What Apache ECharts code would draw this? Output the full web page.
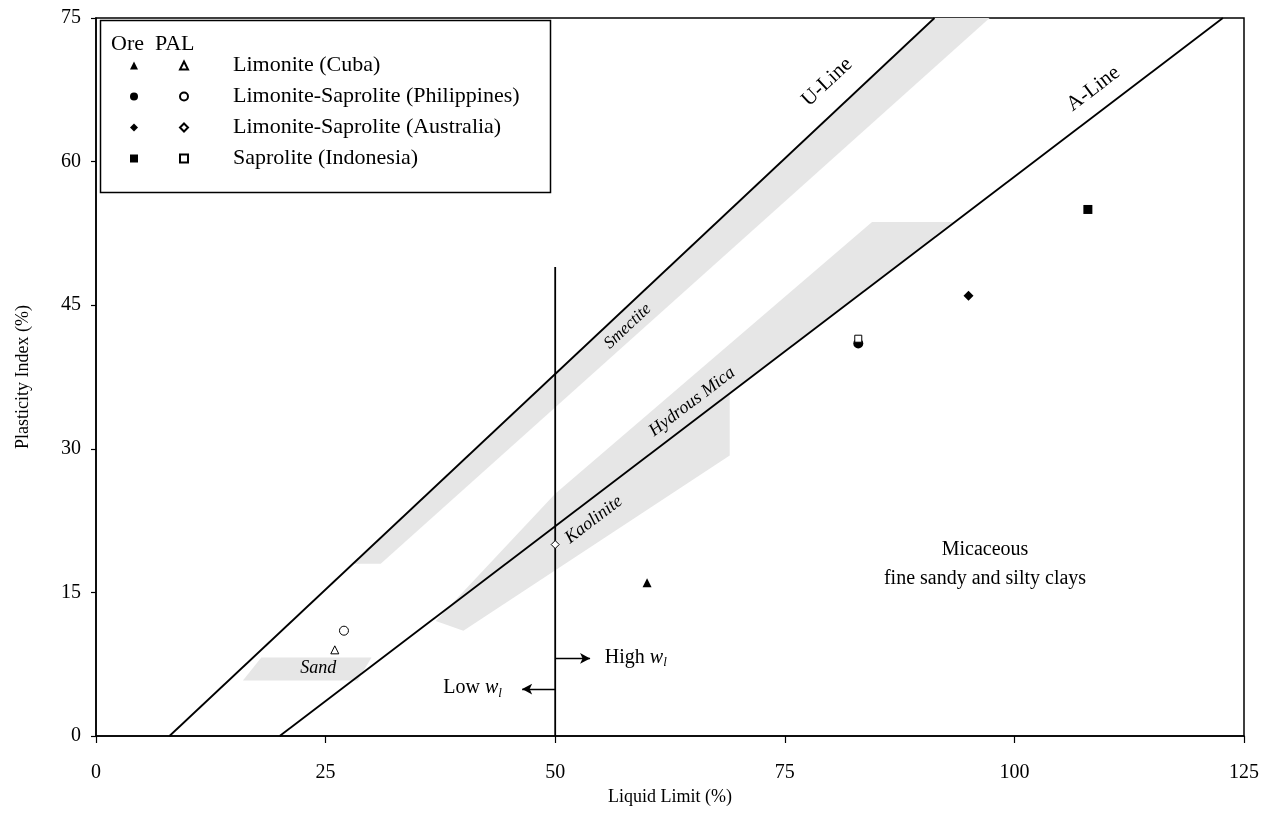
<!DOCTYPE html>
<html>
<head>
<meta charset="utf-8">
<script src="https://cdn.jsdelivr.net/npm/echarts@6/dist/echarts.min.js"></script>
<style>
html, body { margin: 0; padding: 0; background: #fff; }
#chart { width: 1272px; height: 824px; }
</style>
</head>
<body>
<div id="chart"></div>
<script>
var FONT = '"Liberation Serif", "Times New Roman", serif';

// axis ranges
var xRange = [0, 125];
var yRange = [0, 75];

// measured points (liquid limit, plasticity index)
var oreCuba = [[60, 16]];
var palCuba = [[26, 9]];
var orePhil = [[83, 41]];
var palPhil = [[27, 11]];
var oreAus = [[95, 46]];
var palAus = [[50, 20]];
var oreIndo = [[108, 55]];
var palIndo = [[83, 41.5]];

// reference lines
var uLine = [[8, 0], [91.3, 75]];
var aLine = [[20, 0], [122.7, 75]];
var wlLine = [[50, 0], [50, 49]];

// shaded mineral zones
var smectiteBand = [[28, 18], [91.3, 75], [97.3, 75], [31, 18]];
var micaBand = [[37, 12], [50, 25.3], [84.5, 53.7], [93.3, 53.7], [69, 35.8], [69, 29.3], [40, 11]];
var sandBand = [[16, 5.8], [18, 8.2], [30, 8.2], [28.5, 5.8]];

var siteNames = ['Limonite (Cuba)', 'Limonite-Saprolite (Philippines)', 'Limonite-Saprolite (Australia)', 'Saprolite (Indonesia)'];

var myChart = echarts.init(document.getElementById('chart'));

function band(pts) {
    return {
        type: 'custom',
        silent: true,
        z: 1,
        data: [pts[0]],
        renderItem: function (params, api) {
            return {
                type: 'polygon',
                shape: { points: pts.map(function (p) { return api.coord(p); }) },
                style: { fill: '#e6e6e6' }
            };
        }
    };
}

function refLine(data) {
    return {
        type: 'line',
        data: data,
        symbol: 'none',
        silent: true,
        z: 3,
        lineStyle: { color: '#000', width: 1.8 }
    };
}

function ore(name, data, symbol, size) {
    return {
        type: 'scatter', name: 'ore ' + name, data: data,
        symbol: symbol, symbolSize: size, z: 5,
        itemStyle: { color: '#000', opacity: 1 }
    };
}

function pal(name, data, symbol, size) {
    return {
        type: 'scatter', name: name, data: data,
        symbol: symbol, symbolSize: size, z: 6,
        itemStyle: { color: '#fff', borderColor: '#000', borderWidth: 1, opacity: 1 }
    };
}

function note(x, y, text, opts) {
    var lab = {
        show: true, position: 'inside', formatter: text,
        color: '#000', fontFamily: FONT, fontSize: 20
    };
    for (var k in opts) lab[k] = opts[k];
    return { value: [x, y], symbolSize: 0, label: lab };
}

var subRich = {
    n: { fontFamily: FONT, fontSize: 20, color: '#000', verticalAlign: 'top', lineHeight: 22, padding: [0, 0, 4, 0] },
    w: { fontFamily: FONT, fontSize: 20, fontStyle: 'italic', color: '#000', verticalAlign: 'top', lineHeight: 22, padding: [0, 0, 4, 0] },
    s: { fontFamily: FONT, fontSize: 13, fontStyle: 'italic', color: '#000', verticalAlign: 'bottom', lineHeight: 13 }
};

var wlSeries = refLine(wlLine);
wlSeries.markLine = {
    silent: true,
    symbol: ['none', 'arrow'],
    symbolSize: [8, 10],
    label: { show: false },
    lineStyle: { color: '#000', width: 1.4, type: 'solid' },
    data: [
        [{ coord: [50, 8.1] }, { coord: [53.8, 8.1] }],
        [{ coord: [50, 4.9] }, { coord: [46.4, 4.9] }]
    ]
};

option = {
    backgroundColor: '#fff',
    animation: false,
    grid: {
        left: 96, right: 28, top: 18, bottom: 88,
        show: true, borderColor: '#000', borderWidth: 1.5
    },
    xAxis: {
        type: 'value', min: xRange[0], max: xRange[1], interval: 25,
        name: 'Liquid Limit (%)', nameLocation: 'middle', nameGap: 52,
        nameTextStyle: { fontFamily: FONT, fontSize: 18, color: '#000' },
        axisLine: { lineStyle: { color: '#000', width: 1.5 } },
        axisTick: { length: 7, lineStyle: { color: '#000', width: 1.2 } },
        axisLabel: { fontFamily: FONT, fontSize: 20, color: '#000', margin: 27 },
        splitLine: { show: false }
    },
    yAxis: {
        type: 'value', min: yRange[0], max: yRange[1], interval: 15,
        name: 'Plasticity Index (%)', nameLocation: 'middle', nameGap: 64,
        nameTextStyle: { fontFamily: FONT, fontSize: 18, color: '#000' },
        axisLine: { lineStyle: { color: '#000', width: 1.5 } },
        axisTick: { length: 5, lineStyle: { color: '#000', width: 1.2 } },
        axisLabel: { fontFamily: FONT, fontSize: 20, color: '#000', margin: 15 },
        splitLine: { show: false }
    },
    legend: [
        {
            data: siteNames.map(function (n) { return 'ore ' + n; }),
            orient: 'vertical', left: 130, top: 54, padding: 0,
            itemWidth: 8, itemHeight: 8, itemGap: 8,
            formatter: function () { return ' '; },
            textStyle: { fontFamily: FONT, fontSize: 22, lineHeight: 23 },
            selectedMode: false
        },
        {
            data: siteNames,
            orient: 'vertical', left: 179, top: 54, padding: 0,
            itemWidth: 8, itemHeight: 8, itemGap: 8,
            textStyle: { fontFamily: FONT, fontSize: 22, lineHeight: 23, color: '#000', padding: [0, 0, 0, 40] },
            selectedMode: false
        }
    ],
    graphic: [
        {
            type: 'rect', left: 98, top: 18, z: 10,
            shape: { width: 450, height: 172 },
            style: { fill: 'none', stroke: '#000', lineWidth: 1.5 }
        },
        {
            type: 'text', left: 111, top: 33, z: 10,
            style: { text: 'Ore  PAL', font: '22px ' + FONT, fill: '#000' }
        }
    ],
    series: [
        band(smectiteBand),
        band(micaBand),
        band(sandBand),
        refLine(uLine),
        refLine(aLine),
        wlSeries,
        ore(siteNames[0], oreCuba, 'triangle', 9),
        pal(siteNames[0], palCuba, 'triangle', 8),
        ore(siteNames[1], orePhil, 'circle', 10),
        pal(siteNames[1], palPhil, 'circle', 9),
        ore(siteNames[2], oreAus, 'diamond', 10),
        pal(siteNames[2], palAus, 'diamond', 8),
        ore(siteNames[3], oreIndo, 'rect', 9),
        pal(siteNames[3], palIndo, 'rect', 7),
        {
            type: 'scatter',
            silent: true,
            z: 8,
            itemStyle: { opacity: 1 },
            data: [
                note(79.6, 68.3, 'U-Line', { rotate: 43.2, fontSize: 21 }),
                note(108.6, 67.6, 'A-Line', { rotate: 37.3, fontSize: 21 }),
                note(57.9, 42.8, 'Smectite', { rotate: 43.2, fontStyle: 'italic', fontSize: 17 }),
                note(64.9, 34.9, 'Hydrous Mica', { rotate: 37.3, fontStyle: 'italic', fontSize: 18 }),
                note(54.2, 22.6, 'Kaolinite', { rotate: 37.3, fontStyle: 'italic', fontSize: 18 }),
                note(24.2, 7.1, 'Sand', { fontStyle: 'italic', fontSize: 18 }),
                note(96.8, 17.9, 'Micaceous\nfine sandy and silty clays', { lineHeight: 29, align: 'center' }),
                note(55.4, 8.1, '{n|High }{w|w}{s|l}', { align: 'left', rich: subRich }),
                note(44.2, 4.9, '{n|Low }{w|w}{s|l}', { align: 'right', rich: subRich })
            ]
        }
    ]
};

myChart.setOption(option);
</script>
</body>
</html>
